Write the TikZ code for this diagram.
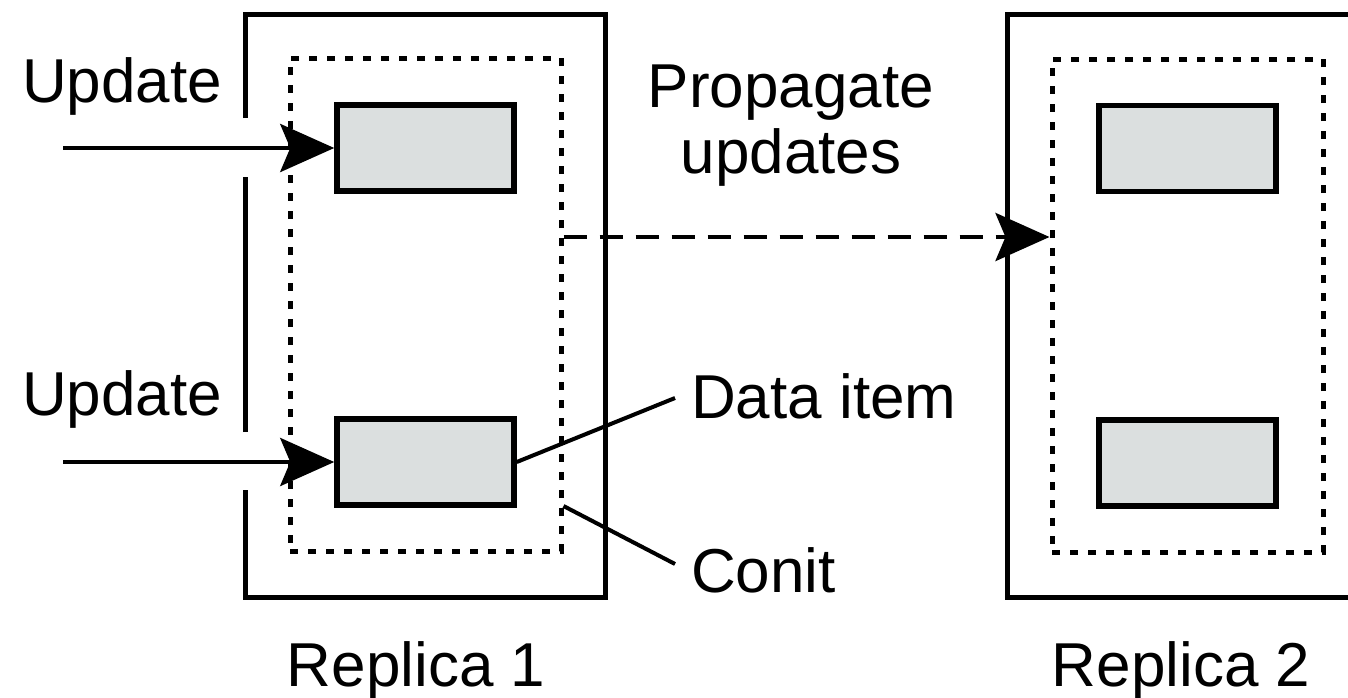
\documentclass[tikz,border=0pt]{standalone}
\usepackage{fontspec}
\setmainfont{Liberation Sans}
\usetikzlibrary{arrows.meta}
\definecolor{itemgray}{RGB}{219,223,223}

\tikzset{
  replica/.style={draw, line width=5pt},
  conitbox/.style={draw, line width=5pt, dash pattern=on 8pt off 10pt,
    minimum width=271pt, minimum height=493pt, inner sep=0pt},
  dataitem/.style={draw, fill=itemgray, line width=5.5pt,
    minimum width=177pt, minimum height=86pt, inner sep=0pt},
  lbl/.style={font=\fontsize{62}{60}\selectfont, inner sep=0pt},
  bigarrow/.style={line width=4.5pt,
    -{Stealth[length=54pt, width=48pt, inset=10pt]}},
  propagate/.style={bigarrow, dash pattern=on 23pt off 13pt},
  leader/.style={line width=4pt}
}

\begin{document}
\begin{tikzpicture}[x=1pt, y=-1pt]
  \useasboundingbox (0,0) rectangle (1348,697);
  \clip (0,0) rectangle (1348,697);

  % replica 1: outer frame with openings for the incoming updates
  \draw[replica] (245,118) -- (245,14) -- (605,14) -- (605,597)
                 -- (245,597) -- (245,490);
  \draw[replica] (245,432) -- (245,177);
  % replica 2: outer frame
  \draw[replica] (1007,14) rectangle (1367,597);

  % conits
  \node[conitbox] (conit1) at (425.5,304.5) {};
  \node[conitbox] (conit2) at (1187.5,305.5) {};

  % data items
  \node[dataitem] (item1a) at (425.5,148) {};
  \node[dataitem] (item1b) at (425.5,462) {};
  \node[dataitem] (item2a) at (1187.5,148.5) {};
  \node[dataitem] (item2b) at (1187.5,463) {};

  % incoming updates
  \coordinate (in1) at (63,148);
  \coordinate (in2) at (63,462);
  \draw[bigarrow] (in1) -- (item1a.west);
  \draw[bigarrow] (in2) -- (item1b.west);
  \node[lbl, anchor=base west] (upd1) at (22,102) {Update};
  \node[lbl, anchor=base west] (upd2) at (22,415) {Update};

  % propagation between the conits
  \draw[propagate] (conit1.east |- 0,237) -- (conit2.west |- 0,237);
  \node[lbl, align=center, anchor=north] (prop) at (791,65)
    {Propagate\\[6pt]updates};

  % annotations
  \coordinate (dataend) at (675,398);
  \coordinate (conitend) at (675,564);
  \draw[leader] (item1b.east) -- (dataend);
  \draw[leader] (conit1.east |- 0,506) -- (conitend);
  \node[lbl, anchor=base west] (datalbl) at (691,418) {Data item};
  \node[lbl, anchor=base west] (conitlbl) at (691,592) {Conit};

  % replica names
  \node[lbl, anchor=base] (rep1) at (416,686) {Replica 1};
  \node[lbl, anchor=base] (rep2) at (1181,686) {Replica 2};
\end{tikzpicture}
\end{document}
